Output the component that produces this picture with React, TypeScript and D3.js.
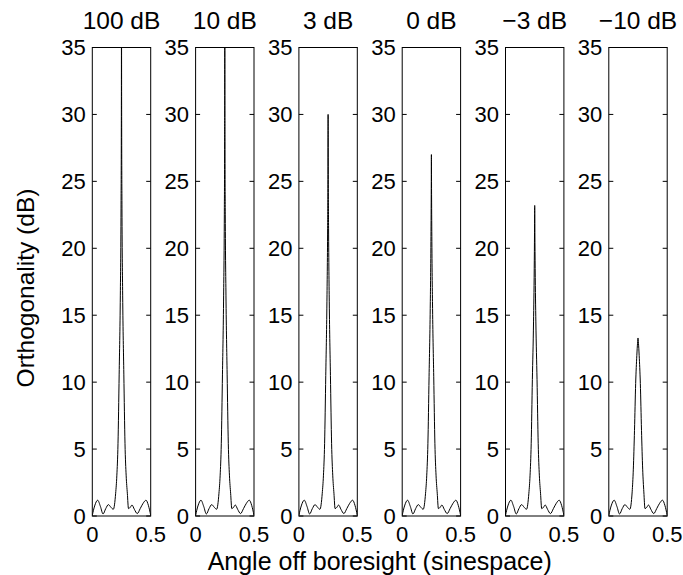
import React from "react";
import * as d3 from "d3";

// Angle grid (sinespace) shared by every SNR case
const ANGLES = [
  0, 0.02, 0.046, 0.07, 0.092, 0.115, 0.138, 0.16, 0.18, 0.2, 0.21, 0.22, 0.23, 0.24, 0.246,
  0.2485, 0.2495, 0.25, 0.2505, 0.2515, 0.254, 0.26, 0.27, 0.28, 0.29, 0.3, 0.31, 0.325, 0.34,
  0.36, 0.385, 0.41, 0.435, 0.46, 0.48, 0.5,
];

const SNR_LABELS = ["100 dB", "10 dB", "3 dB", "0 dB", "\u22123 dB", "\u221210 dB"];

// Orthogonality (dB) for each SNR, sampled at ANGLES
const ORTH_100DB = [
  0.05, 0.75, 1.18, 0.7, 0.15, 0.55, 0.85, 0.65, 0.5, 1.7, 3.0, 5.4, 10.6, 16.5, 23, 29, 36, 100,
  36, 29, 23, 16.5, 10.6, 5.4, 3.0, 1.7, 0.55, 0.65, 0.82, 0.5, 0.18, 0.55, 0.95, 1.18, 0.8, 0.05,
];
const ORTH_10DB = [
  0.05, 0.75, 1.18, 0.7, 0.15, 0.55, 0.85, 0.65, 0.5, 1.7, 3.0, 5.4, 10.6, 16.5, 22.5, 28, 33, 40,
  33, 28, 22.5, 16.5, 10.6, 5.4, 3.0, 1.7, 0.55, 0.65, 0.82, 0.5, 0.18, 0.55, 0.95, 1.18, 0.8, 0.05,
];
const ORTH_3DB = [
  0.05, 0.75, 1.18, 0.7, 0.15, 0.55, 0.85, 0.65, 0.5, 1.7, 3.0, 5.4, 10.5, 16, 21.5, 25.5, 28.3, 30,
  28.3, 25.5, 21.5, 16, 10.5, 5.4, 3.0, 1.7, 0.55, 0.65, 0.82, 0.5, 0.18, 0.55, 0.95, 1.18, 0.8, 0.05,
];
const ORTH_0DB = [
  0.05, 0.75, 1.18, 0.7, 0.15, 0.55, 0.85, 0.65, 0.5, 1.7, 3.0, 5.4, 10.4, 15.5, 20.5, 24, 26, 27,
  26, 24, 20.5, 15.5, 10.4, 5.4, 3.0, 1.7, 0.55, 0.65, 0.82, 0.5, 0.18, 0.55, 0.95, 1.18, 0.8, 0.05,
];
const ORTH_M3DB = [
  0.05, 0.75, 1.18, 0.7, 0.15, 0.55, 0.85, 0.65, 0.5, 1.7, 3.0, 5.4, 10.2, 14.5, 18.5, 21.2, 22.5, 23.2,
  22.5, 21.2, 18.5, 14.5, 10.2, 5.4, 3.0, 1.7, 0.55, 0.65, 0.82, 0.5, 0.18, 0.55, 0.95, 1.18, 0.8, 0.05,
];
const ORTH_M10DB = [
  0.05, 0.75, 1.18, 0.7, 0.15, 0.55, 0.85, 0.65, 0.5, 1.8, 3.5, 6.4, 9.9, 12.0, 12.9, 13.15, 13.27, 13.3,
  13.27, 13.15, 12.9, 12.0, 9.9, 6.4, 3.5, 1.8, 0.55, 0.65, 0.82, 0.5, 0.18, 0.55, 0.95, 1.18, 0.8, 0.05,
];

const SERIES = [ORTH_100DB, ORTH_10DB, ORTH_3DB, ORTH_0DB, ORTH_M3DB, ORTH_M10DB];

const Y_TICKS = [0, 5, 10, 15, 20, 25, 30, 35];
const X_TICKS = [0, 0.5];
const X_TICK_LABELS = ["0", "0.5"];

const WIDTH = 683;
const HEIGHT = 575;
const PLOT_TOP = 47.5;
const PLOT_BOTTOM = 516;
const PANEL_LEFT0 = 92.3;
const PANEL_STEP = 103.3;
const PANEL_W = 58.4;
const TICK_LEN = 4.5;
const FONT = "'Liberation Sans', Arial, Helvetica, sans-serif";

export default function App() {
  const y = d3.scaleLinear().domain([0, 35]).range([PLOT_BOTTOM, PLOT_TOP]);

  return (
    <svg
      width={WIDTH}
      height={HEIGHT}
      style={{ position: "absolute", left: 0, top: 0, background: "#fff" }}
      fontFamily={FONT}
    >
      <rect x={0} y={0} width={WIDTH} height={HEIGHT} fill="#fff" />
      <defs>
        {SERIES.map((_, i) => {
          const left = PANEL_LEFT0 + i * PANEL_STEP;
          return (
            <clipPath id={`clip-${i}`} key={i}>
              <rect x={left} y={PLOT_TOP} width={PANEL_W} height={PLOT_BOTTOM - PLOT_TOP} />
            </clipPath>
          );
        })}
      </defs>
      {SERIES.map((values, i) => {
        const left = PANEL_LEFT0 + i * PANEL_STEP;
        const x = d3.scaleLinear().domain([0, 0.5]).range([left, left + PANEL_W]);
        const line = d3
          .line<number>()
          .x((_, k) => x(ANGLES[k]))
          .y((v) => y(v))
          .curve(d3.curveMonotoneX);
        return (
          <g key={i}>
            <path
              d={line(values) ?? ""}
              fill="none"
              stroke="#000"
              strokeWidth={1}
              clipPath={`url(#clip-${i})`}
            />
            <rect
              x={left}
              y={PLOT_TOP}
              width={PANEL_W}
              height={PLOT_BOTTOM - PLOT_TOP}
              fill="none"
              stroke="#000"
              strokeWidth={1}
            />
            {Y_TICKS.map((t) => (
              <g key={t}>
                <line x1={left} x2={left + TICK_LEN} y1={y(t)} y2={y(t)} stroke="#000" />
                <line
                  x1={left + PANEL_W}
                  x2={left + PANEL_W - TICK_LEN}
                  y1={y(t)}
                  y2={y(t)}
                  stroke="#000"
                />
                <text
                  x={left - 6.5}
                  y={y(t)}
                  dy="0.36em"
                  textAnchor="end"
                  fontSize={22}
                  fill="#000"
                >
                  {t}
                </text>
              </g>
            ))}
            {X_TICKS.map((t, k) => (
              <text
                key={t}
                x={x(t)}
                y={542}
                textAnchor="middle"
                fontSize={22}
                fill="#000"
              >
                {X_TICK_LABELS[k]}
              </text>
            ))}
            <text
              x={left + PANEL_W / 2}
              y={28.5}
              textAnchor="middle"
              fontSize={24.5}
              fill="#000"
            >
              {SNR_LABELS[i]}
            </text>
          </g>
        );
      })}
      <text
        x={(PANEL_LEFT0 + PANEL_LEFT0 + 5 * PANEL_STEP + PANEL_W) / 2}
        y={569.5}
        textAnchor="middle"
        fontSize={25}
        fill="#000"
      >
        Angle off boresight (sinespace)
      </text>
      <text
        transform={`translate(33.5, 288) rotate(-90)`}
        textAnchor="middle"
        fontSize={24.5}
        fill="#000"
      >
        Orthogonality (dB)
      </text>
    </svg>
  );
}
